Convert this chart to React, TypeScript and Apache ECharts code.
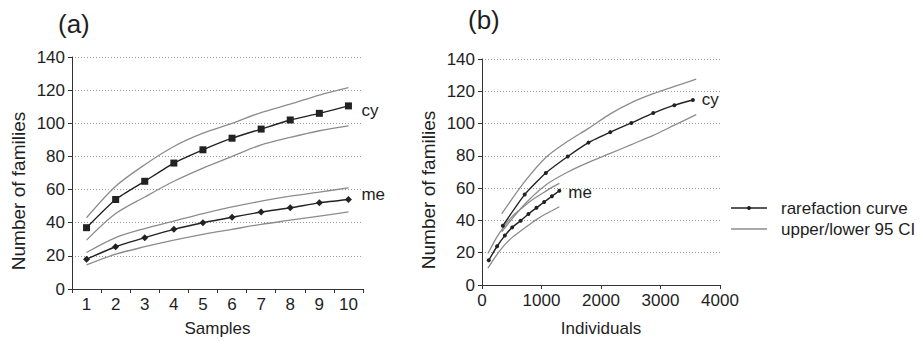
import React, { useEffect, useRef } from "react";
import * as echarts from "echarts";

// ---------- Data ----------
// Panel (a): sample-based rarefaction
const samples = ["1", "2", "3", "4", "5", "6", "7", "8", "9", "10"];
const aCy = [37, 54, 65, 76, 84, 91, 96.5, 102, 106, 110.5];
const aCyUpper = [43, 62, 75, 86, 94, 100, 106.5, 111.5, 117, 121.5];
const aCyLower = [29.5, 45.5, 55.5, 65, 73, 80, 87, 91.5, 95.5, 98.5];
const aMe = [18, 25.5, 31, 36, 40, 43.3, 46.5, 49, 52, 54];
const aMeUpper = [22, 31, 36.5, 41, 45.5, 49.5, 53, 56, 58.5, 61];
const aMeLower = [14.5, 21, 25.5, 29.5, 33, 36, 39, 41.5, 44, 46.5];

// Panel (b): individual-based rarefaction
const bCyX = [350, 717, 1073, 1441, 1789, 2156, 2511, 2878, 3233, 3544];
const bCy = [36.7, 56, 69.4, 79.6, 88.2, 94.7, 100.4, 106.5, 111.4, 114.6];
const bCyCiX = [330, 717, 1073, 1441, 1789, 2156, 2511, 2878, 3233, 3600];
const bCyUpper = [44, 64, 79, 89, 97, 106, 113, 118.5, 123, 127.5];
const bCyLower = [33, 50, 62, 70, 76, 81.5, 87, 92.7, 99, 105.5];
const bMeX = [113, 254, 384, 508, 650, 780, 915, 1045, 1175, 1300];
const bMe = [15.3, 24, 30.6, 35.7, 39.8, 44, 47.8, 51.4, 55, 58.4];
const bMeCiX = [100, 254, 384, 508, 650, 780, 915, 1045, 1175, 1300];
const bMeUpper = [19.5, 30, 37, 42.5, 47, 51, 54.5, 57.5, 60.5, 63];
const bMeLower = [10.5, 19, 25, 29.5, 33.5, 37, 40.5, 43.5, 46, 48.5];

const yTicks = { min: 0, max: 140, interval: 20 };
const xTicksB = { min: 0, max: 4000, interval: 1000 };

const FONT = "'Liberation Sans', Arial, sans-serif";
const TXT = "#1e1e1e";
const CURVE = "#222222";
const CI = "#8c8c8c";

const zip = (xs: number[], ys: number[]) => xs.map((x, i) => [x, ys[i]]);

export default function App() {
  const ref = useRef<HTMLDivElement>(null);

  useEffect(() => {
    if (!ref.current) return;
    const chart = echarts.init(ref.current, null, { renderer: "svg" });

    const axisLine = { show: true, lineStyle: { color: "#333", width: 1 } };
    const axisTick = { show: true, length: 4, lineStyle: { color: "#333", width: 1 } };
    const axisLabel = { fontSize: 17, color: TXT, fontFamily: FONT, margin: 7 };
    const nameStyle = { fontSize: 17, color: TXT, fontFamily: FONT };
    const yNameStyle = { fontSize: 19, color: TXT, fontFamily: FONT, padding: [0, 36, 0, 0] };
    const split = { show: true, lineStyle: { type: [1, 2] as any, color: "#9a9a9a", width: 1 } };

    const ciLine = (name: string, xi: number, yi: number, data: any[]) => ({
      type: "line",
      name,
      xAxisIndex: xi,
      yAxisIndex: yi,
      data,
      symbol: "none",
      smooth: 0.3,
      lineStyle: { color: CI, width: 1.3 },
      z: 2,
    });

    const curve = (
      name: string,
      xi: number,
      yi: number,
      data: any[],
      symbol: string,
      size: number,
      label: string,
      offset: number[],
      distance: number
    ) => ({
      type: "line",
      name,
      xAxisIndex: xi,
      yAxisIndex: yi,
      data,
      symbol,
      symbolSize: size,
      showAllSymbol: true,
      smooth: 0.2,
      itemStyle: { color: CURVE },
      lineStyle: { color: CURVE, width: 1.4 },
      endLabel: {
        show: true,
        formatter: label,
        fontSize: 17,
        color: TXT,
        fontFamily: FONT,
        offset,
        distance,
      },
      z: 3,
    });

    chart.setOption({
      animation: false,
      backgroundColor: "#ffffff",
      textStyle: { fontFamily: FONT },
      grid: [
        { left: 72, top: 57, width: 291, height: 236 },
        { left: 482, top: 59, width: 238, height: 234 },
      ],
      xAxis: [
        {
          type: "category",
          gridIndex: 0,
          data: samples,
          boundaryGap: true,
          axisLine,
          axisTick: { ...axisTick, interval: 0 },
          axisLabel: { ...axisLabel, interval: 0 },
          splitLine: { show: false },
          name: "Samples",
          nameLocation: "middle",
          nameGap: 31,
          nameTextStyle: nameStyle,
        },
        {
          type: "value",
          gridIndex: 1,
          ...xTicksB,
          axisLine,
          axisTick,
          axisLabel: { ...axisLabel, formatter: (v: number) => String(v) },
          splitLine: { show: false },
          name: "Individuals",
          nameLocation: "middle",
          nameGap: 35,
          nameTextStyle: nameStyle,
        },
      ],
      yAxis: [
        {
          type: "value",
          gridIndex: 0,
          ...yTicks,
          axisLine,
          axisTick,
          axisLabel,
          splitLine: split,
          name: "Number of families",
          nameLocation: "middle",
          nameGap: 44,
          nameTextStyle: yNameStyle,
        },
        {
          type: "value",
          gridIndex: 1,
          ...yTicks,
          axisLine,
          axisTick,
          axisLabel,
          splitLine: split,
          name: "Number of families",
          nameLocation: "middle",
          nameGap: 44,
          nameTextStyle: yNameStyle,
        },
      ],
      series: [
        ciLine("a cy upper", 0, 0, aCyUpper),
        ciLine("a cy lower", 0, 0, aCyLower),
        ciLine("a me upper", 0, 0, aMeUpper),
        ciLine("a me lower", 0, 0, aMeLower),
        curve("a cy", 0, 0, aCy, "rect", 7, "cy", [0, 5], 13),
        curve("a me", 0, 0, aMe, "diamond", 7, "me", [0, -5], 13),
        ciLine("b cy upper", 1, 1, zip(bCyCiX, bCyUpper)),
        ciLine("b cy lower", 1, 1, zip(bCyCiX, bCyLower)),
        ciLine("b me upper", 1, 1, zip(bMeCiX, bMeUpper)),
        ciLine("b me lower", 1, 1, zip(bMeCiX, bMeLower)),
        curve("b cy", 1, 1, zip(bCyX, bCy), "circle", 4, "cy", [0, -1], 9),
        curve("b me", 1, 1, zip(bMeX, bMe), "circle", 4, "me", [0, 2], 9),
      ],
      graphic: [
        {
          type: "text",
          left: 58,
          top: 11,
          style: { text: "(a)", fontSize: 26, fill: TXT, fontFamily: FONT },
        },
        {
          type: "text",
          left: 468,
          top: 7,
          style: { text: "(b)", fontSize: 26, fill: TXT, fontFamily: FONT },
        },
        {
          type: "line",
          shape: { x1: 731, y1: 208, x2: 767, y2: 208 },
          style: { stroke: CURVE, lineWidth: 1.4 },
        },
        {
          type: "circle",
          shape: { cx: 749, cy: 208, r: 2 },
          style: { fill: CURVE },
        },
        {
          type: "text",
          x: 781,
          y: 208,
          style: {
            text: "rarefaction curve",
            fontSize: 17,
            fill: TXT,
            fontFamily: FONT,
            verticalAlign: "middle",
          },
        },
        {
          type: "line",
          shape: { x1: 731, y1: 229, x2: 767, y2: 229 },
          style: { stroke: CI, lineWidth: 1.3 },
        },
        {
          type: "text",
          x: 781,
          y: 229,
          style: {
            text: "upper/lower 95 CI",
            fontSize: 17,
            fill: TXT,
            fontFamily: FONT,
            verticalAlign: "middle",
          },
        },
      ],
    });

    return () => chart.dispose();
  }, []);

  return (
    <div
      ref={ref}
      style={{ position: "fixed", left: 0, top: 0, width: 921, height: 342, background: "#fff" }}
    />
  );
}
